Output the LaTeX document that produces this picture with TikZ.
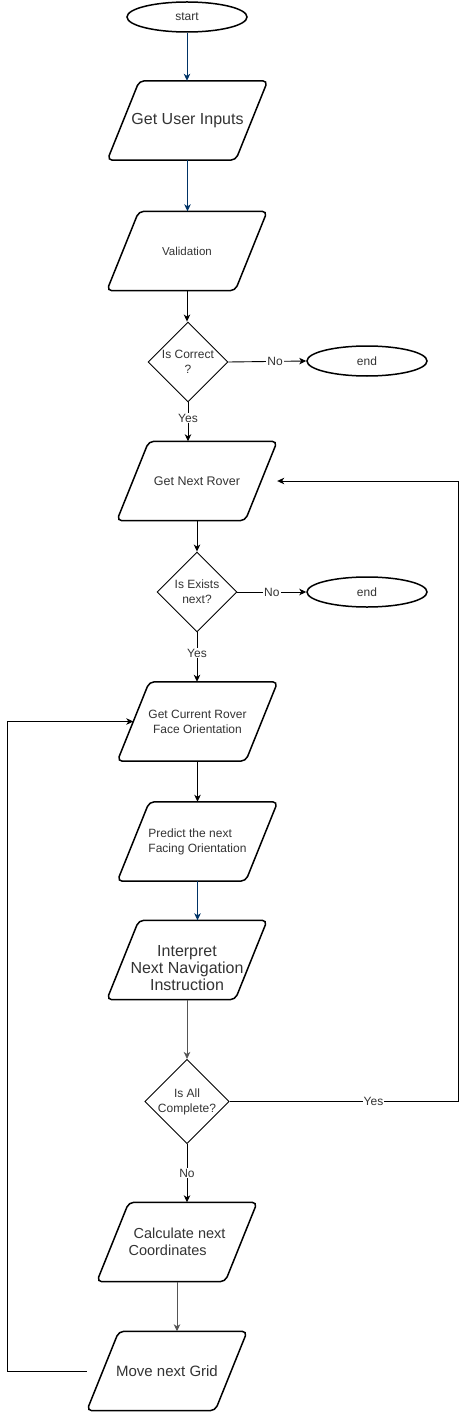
\documentclass[tikz,border=0pt]{standalone}
\usepackage{fontspec}
\setmainfont{Liberation Sans}
\usetikzlibrary{shapes.geometric,arrows.meta}
\definecolor{txt}{HTML}{333333}
\definecolor{navy}{HTML}{003366}
\definecolor{gline}{HTML}{555555}
\begin{document}
\begin{tikzpicture}[x=1pt,y=-1pt,
  base/.style={draw=black, text=txt, font=\fontsize{12}{15}\selectfont, align=center, inner sep=0pt},
  term/.style={base, ellipse, line width=1.5pt, minimum width=120pt, minimum height=30pt},
  io/.style={base, draw=none, rectangle, minimum width=160pt, minimum height=79pt},
  iobox/.style={draw=black, line width=1.5pt, rounded corners=5pt},
  dec/.style={base, diamond, line width=0.9pt, minimum width=80pt, minimum height=80pt},
  conn/.style={draw=black, line width=0.9pt, -{Stealth[length=7pt,width=6.5pt,inset=2pt]}},
  lbl/.style={fill=white, text=txt, font=\fontsize{12}{14}\selectfont, inner sep=1pt}
]
\useasboundingbox (0,0) rectangle (466,1412);

\node[term] (start) at (187,17) {start};
\node[io, font=\fontsize{16}{19}\selectfont] (gui) at (187.5,120.5) {Get User Inputs};
\node[io, font=\fontsize{11.5}{14}\selectfont] (val) at (187,251) {Validation};
\node[dec] (ok) at (188,362) {Is Correct\\?};
\node[term] (end1) at (367,361) {end};
\node[io, font=\fontsize{12.5}{15}\selectfont] (nextr) at (197,481) {Get Next Rover};
\node[dec] (exists) at (197,592) {Is Exists\\next?};
\node[term] (end2) at (367,592) {end};
\node[io] (cur) at (197.5,721.5) {Get Current Rover\\Face Orientation};
\node[io, align=left] (pred) at (197.5,841.5) {Predict the next\\Facing Orientation};
\node[io, font=\fontsize{16}{18.5}\selectfont] (interp) at (187,960) {\raisebox{-10pt}[\height][\depth]{\begin{tabular}{@{}c@{}}Interpret\\[-1.5pt]Next Navigation\\[-1.5pt]Instruction\end{tabular}}};
\node[dec] (all) at (187,1101.5) {Is All\\Complete?};
\node[io, font=\fontsize{14.5}{17}\selectfont, align=left] (calc) at (177,1242) {\hspace*{5pt}Calculate next\\Coordinates};
\node[io, font=\fontsize{15}{18}\selectfont] (move) at (167,1371) {Move next Grid};

\foreach \n in {gui,val,nextr,cur,pred,interp,calc,move}
  \draw[iobox] ([xshift=32pt]\n.north west) -- (\n.north east)
     -- ([xshift=-32pt]\n.south east) -- (\n.south west) -- cycle;

\coordinate (rx) at (458,481);
\coordinate (lx) at (7,1371);

\draw[conn, draw=navy] (start) -- (start |- gui.north);
\draw[conn, draw=navy] (gui.south) -- (gui.south |- val.north);
\draw[conn] (val.south) -- (val.south |- ok.north);
\draw[conn] (ok.east) -- node[lbl, pos=0.6] {No} (end1.west);
\draw[conn] (ok.south) -- node[lbl, pos=0.4] {Yes} (ok.south |- nextr.north);
\draw[conn] (nextr.south) -- (exists.north);
\draw[conn] (exists.east) -- node[lbl, pos=0.5] {No} (end2.west);
\draw[conn] (exists.south) -- node[lbl, pos=0.42] {Yes} (exists.south |- cur.north);
\draw[conn] (cur.south) -- (cur.south |- pred.north);
\draw[conn, draw=navy] (pred.south) -- (pred.south |- interp.north);
\draw[conn, draw=gline] (interp.south) -- (interp.south |- all.north);
\draw[conn] (all.south) -- node[lbl, pos=0.5] {No} (all.south |- calc.north);
\draw[conn, draw=gline] (calc.south) -- (calc.south |- move.north);
\draw[conn] (all.east) -- node[lbl, pos=0.63] {Yes} (all.east -| rx) -- (rx) -- (nextr.east);
\draw[conn] (move.west) -- (lx) -- (lx |- cur.west) -- ([xshift=16pt]cur.west);
\end{tikzpicture}
\end{document}
